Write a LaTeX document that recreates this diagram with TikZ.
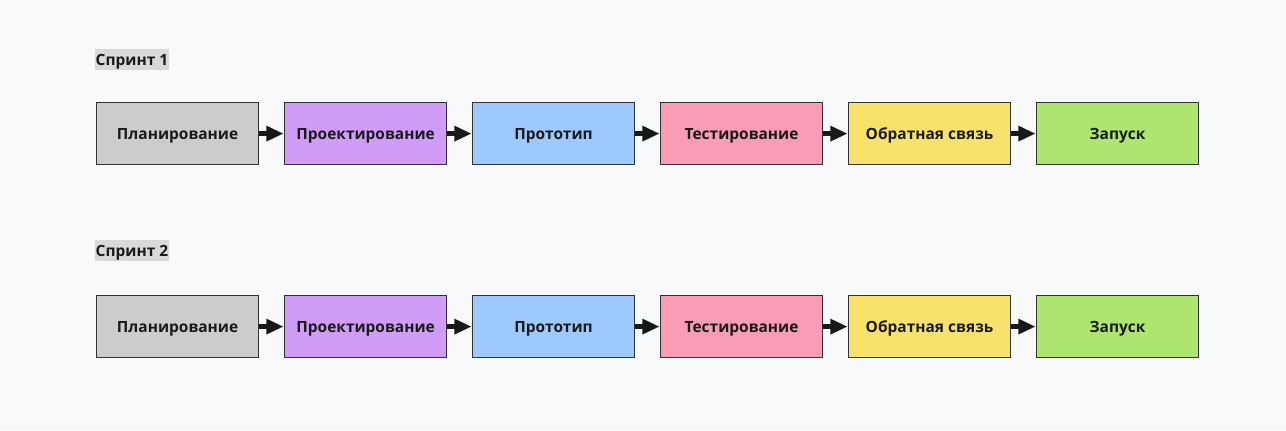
\documentclass[tikz,border=0pt]{standalone}
\usepackage{fontspec}
\setmainfont{Open Sans}
\usetikzlibrary{arrows.meta}
\definecolor{bg}{HTML}{F8F9FB}
\definecolor{cplan}{HTML}{CCCCCC}
\definecolor{cproj}{HTML}{D19CF8}
\definecolor{cproto}{HTML}{9DC9FE}
\definecolor{ctest}{HTML}{F99CB6}
\definecolor{cfeed}{HTML}{F9E26C}
\definecolor{claunch}{HTML}{ACE66F}
\definecolor{cborder}{HTML}{333333}
\definecolor{ctext}{HTML}{1A1A1A}
\definecolor{clabel}{HTML}{D9D9D9}
\tikzset{
  stage/.style={draw=cborder, line width=0.9pt, minimum width=121.5pt, minimum height=46.5pt,
    inner sep=0pt, text height=8.4pt, text depth=0pt,
    font=\fontsize{11.6}{13}\selectfont\bfseries, text=ctext, anchor=north west},
  flow/.style={line width=3.2pt, draw=black!90, -{Triangle[length=13pt,width=11pt]}, shorten >=0.3pt},
  sprint/.style={fill=clabel, inner xsep=0.3pt, inner ysep=0pt, minimum height=15.75pt,
    text height=8.4pt, text depth=0pt,
    font=\fontsize{11.6}{13}\selectfont\bfseries, text=ctext, anchor=north west}
}
\begin{document}
\begin{tikzpicture}[x=0.75pt,y=-0.75pt]
\fill[bg] (0,0) rectangle (1286,430);
\useasboundingbox (0,0) rectangle (1286,430);
\foreach \r/\yy/\ly in {1/102/49, 2/295/240} {
  \node[sprint] (s\r) at (95,\ly) {Спринт \r};
  \node[stage, fill=cplan] (a\r) at (96,\yy) {Планирование};
  \node[stage, fill=cproj] (b\r) at (284,\yy) {Проектирование};
  \node[stage, fill=cproto] (c\r) at (472,\yy) {Прототип};
  \node[stage, fill=ctest] (d\r) at (660,\yy) {Тестирование};
  \node[stage, fill=cfeed] (e\r) at (848,\yy) {Обратная связь};
  \node[stage, fill=claunch] (f\r) at (1036,\yy) {Запуск};
  \draw[flow] (a\r) -- (b\r);
  \draw[flow] (b\r) -- (c\r);
  \draw[flow] (c\r) -- (d\r);
  \draw[flow] (d\r) -- (e\r);
  \draw[flow] (e\r) -- (f\r);
}
\end{tikzpicture}
\end{document}
